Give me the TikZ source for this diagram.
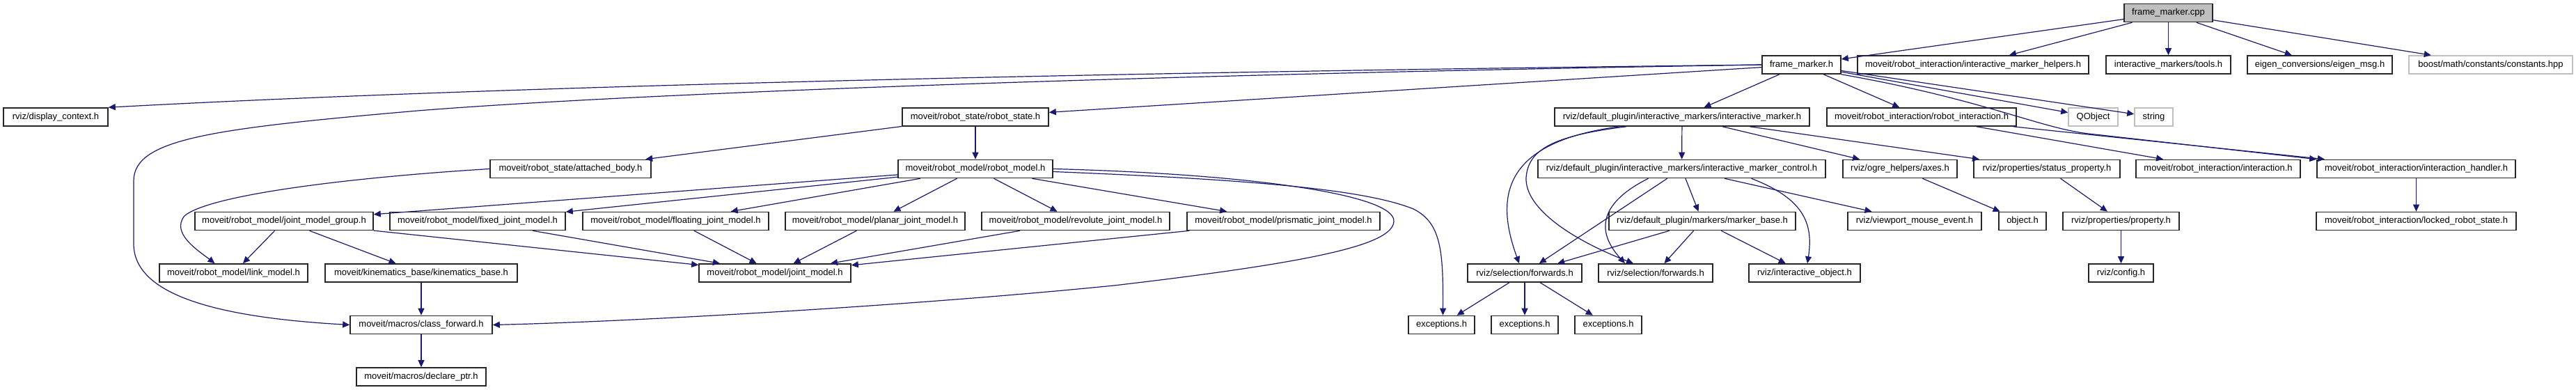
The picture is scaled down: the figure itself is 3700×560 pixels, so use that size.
\documentclass[tikz,border=0pt]{standalone}
\usepackage{fontspec}
\setmainfont{Liberation Sans}
\usetikzlibrary{arrows.meta,calc}
\definecolor{edgec}{HTML}{191970}
\definecolor{graybd}{HTML}{BFBFBF}
\begin{document}
\begin{tikzpicture}[x=0.5pt,y=-0.5pt,
  box/.style={draw=black!85, line width=0.8pt, fill=white, minimum height=13pt, inner sep=0pt, font=\fontsize{6.5}{7.8}\selectfont, anchor=center},
  gbox/.style={box, draw=graybd},
  bw/.style={minimum width={#1*0.5pt}},
  dep/.style={draw=edgec, line width=0.6pt, -{Triangle[length=5pt,width=4.5pt]}}]
\useasboundingbox[fill=white] (0,0) rectangle (3700,560);
% row 0
\node[box,bw=127,fill=graybd] (cpp) at (3114.5,18.5) {frame\_marker.cpp};
% row 1
\node[box,bw=113] (fmh) at (2587.5,93) {frame\_marker.h};
\node[box,bw=332] (helpers) at (2834,93) {moveit/robot\_interaction/interactive\_marker\_helpers.h};
\node[box,bw=179] (tools) at (3114.5,93) {interactive\_markers/tools.h};
\node[box,bw=208] (eigen) at (3332,93) {eigen\_conversions/eigen\_msg.h};
\node[gbox,bw=235] (boost) at (3577.5,93) {boost/math/constants/constants.hpp};
% row 2
\node[box,bw=150] (dc) at (80,168) {rviz/display\_context.h};
\node[box,bw=210] (rs) at (1401,168) {moveit/robot\_state/robot\_state.h};
\node[box,bw=366] (im) at (2416,168) {rviz/default\_plugin/interactive\_markers/interactive\_marker.h};
\node[box,bw=272] (ri) at (2760,168) {moveit/robot\_interaction/robot\_interaction.h};
\node[gbox,bw=71] (qobj) at (3006.5,168) {QObject};
\node[gbox,bw=55] (str) at (3093.5,168) {string};
% row 3
\node[box,bw=231] (ab) at (819.5,242.5) {moveit/robot\_state/attached\_body.h};
\node[box,bw=222] (rm) at (1401,242.5) {moveit/robot\_model/robot\_model.h};
\node[box,bw=413] (imc) at (2415.5,242.5) {rviz/default\_plugin/interactive\_markers/interactive\_marker\_control.h};
\node[box,bw=164] (axes) at (2729,242.5) {rviz/ogre\_helpers/axes.h};
\node[box,bw=210] (sp) at (2940,242.5) {rviz/properties/status\_property.h};
\node[box,bw=236] (inter) at (3186,242.5) {moveit/robot\_interaction/interaction.h};
\node[box,bw=285] (ih) at (3470.5,242.5) {moveit/robot\_interaction/interaction\_handler.h};
% row 4
\node[box,bw=256] (jmg) at (408,317.5) {moveit/robot\_model/joint\_model\_group.h};
\node[box,bw=252] (fixed) at (686,317.5) {moveit/robot\_model/fixed\_joint\_model.h};
\node[box,bw=267] (floating) at (970.5,317.5) {moveit/robot\_model/floating\_joint\_model.h};
\node[box,bw=258] (planar) at (1257,317.5) {moveit/robot\_model/planar\_joint\_model.h};
\node[box,bw=270] (revolute) at (1545,317.5) {moveit/robot\_model/revolute\_joint\_model.h};
\node[box,bw=277] (prismatic) at (1843.5,317.5) {moveit/robot\_model/prismatic\_joint\_model.h};
\node[box,bw=268] (mb) at (2445,317.5) {rviz/default\_plugin/markers/marker\_base.h};
\node[box,bw=192] (vme) at (2750,317.5) {rviz/viewport\_mouse\_event.h};
\node[box,bw=68] (obj) at (2905,317.5) {object.h};
\node[box,bw=167] (prop) at (3046.5,317.5) {rviz/properties/property.h};
\node[box,bw=287] (lrs) at (3470.5,317.5) {moveit/robot\_interaction/locked\_robot\_state.h};
% row 5
\node[box,bw=213] (lm) at (335.5,392) {moveit/robot\_model/link\_model.h};
\node[box,bw=276] (kb) at (605,392) {moveit/kinematics\_base/kinematics\_base.h};
\node[box,bw=218] (jm) at (1113,392) {moveit/robot\_model/joint\_model.h};
\node[box,bw=164] (fw1) at (2190,392) {rviz/selection/forwards.h};
\node[box,bw=164] (fw2) at (2378,392) {rviz/selection/forwards.h};
\node[box,bw=160] (io) at (2592,392) {rviz/interactive\_object.h};
\node[box,bw=93] (cfg) at (3046.5,392) {rviz/config.h};
% row 6
\node[box,bw=204] (cf) at (605,466.5) {moveit/macros/class\_forward.h};
\node[box,bw=95] (e1) at (2070.5,466.5) {exceptions.h};
\node[box,bw=96] (e2) at (2190,466.5) {exceptions.h};
\node[box,bw=96] (e3) at (2310,466.5) {exceptions.h};
% row 7
\node[box,bw=186] (dp) at (605,541) {moveit/macros/declare\_ptr.h};

% edges from frame_marker.cpp
\draw[dep] (cpp) -- (fmh);
\draw[dep] (cpp) -- (helpers);
\draw[dep] (cpp) -- (tools);
\draw[dep] (cpp) -- (eigen);
\draw[dep] (cpp) -- (boost);
% edges from frame_marker.h
\draw[dep] (fmh.west) .. controls (1500,105) and (700,125) .. (dc.north east);
\draw[dep] (fmh.west) .. controls (1600,108) and (900,135) .. (600,159) .. controls (300,185) and (192,200) .. (192,260) -- (192,350) .. controls (192,420) and (300,455) .. (cf.west);
\draw[dep] (fmh) -- (rs);
\draw[dep] (fmh) -- (im);
\draw[dep] (fmh) -- (ri);
\draw[dep] (fmh) -- (qobj);
\draw[dep] (fmh) -- (str);
\draw[dep] (fmh.south east) .. controls (2850,143) and (2930,184) .. (3000,192) -- (ih.north west);
% robot_state
\draw[dep] (rs) -- (rm);
\draw[dep] (rs) -- (ab);
\draw[dep] (ab.west) .. controls (500,255) and (300,280) .. (265,310) .. controls (245,335) and (285,360) .. ($(lm.north)+(-27,0)$);
% robot_model
\draw[dep] (rm) -- (jmg);
\draw[dep] (rm) -- (fixed);
\draw[dep] (rm) -- (floating);
\draw[dep] (rm) -- (planar);
\draw[dep] (rm) -- (revolute);
\draw[dep] (rm) -- (prismatic);
\draw[dep] (rm.east) .. controls (1800,250) and (2005,280) .. (2002,318) .. controls (2000,350) and (1900,375) .. (1600,410) .. controls (1300,440) and (900,462) .. (cf.east);
\draw[dep] ($(rm.east)+(0,4)$) .. controls (1800,258) and (1960,272) .. (2030,300) .. controls (2070,320) and (2073,360) .. ($(e1.north)+(2,0)$);
% joint models
\draw[dep] (jmg) -- (lm);
\draw[dep] (jmg) -- (kb);
\draw[dep] (jmg) -- (jm);
\draw[dep] (fixed) -- (jm);
\draw[dep] (floating) -- (jm);
\draw[dep] (planar) -- (jm);
\draw[dep] (revolute) -- (jm);
\draw[dep] (prismatic) -- (jm);
\draw[dep] (kb) -- (cf);
\draw[dep] (cf) -- (dp);
% interactive marker
\draw[dep] (im) -- (imc);
\draw[dep] (im) -- (axes);
\draw[dep] (im) -- (sp);
\draw[dep] ($(im.south)+(-90,0)$) .. controls (2150,205) and (2150,290) .. ($(fw1.north)+(-8,0)$);
\draw[dep] ($(im.south)+(-80,0)$) .. controls (2230,195) and (2195,215) .. (2192,255) .. controls (2190,300) and (2260,345) .. ($(fw2.north)+(-32,0)$);
% interactive marker control
\draw[dep] (imc) -- (fw1);
\draw[dep] ($(imc.south)+(-48,0)$) .. controls (2300,290) and (2290,330) .. ($(fw2.north)+(-44,0)$);
\draw[dep] (imc) -- (mb);
\draw[dep] (imc) -- (vme);
\draw[dep] ($(imc.south)+(100,0)$) .. controls (2590,285) and (2605,320) .. ($(io.north)+(4,0)$);
% marker base
\draw[dep] (mb) -- (fw1);
\draw[dep] (mb) -- (fw2);
\draw[dep] (mb) -- (io);
% others
\draw[dep] (axes) -- (obj);
\draw[dep] (sp) -- (prop);
\draw[dep] (prop) -- (cfg);
\draw[dep] (ri) -- (inter);
\draw[dep] (ri) -- (ih);
\draw[dep] (ih) -- (lrs);
\draw[dep] (fw1) -- (e1);
\draw[dep] (fw1) -- (e2);
\draw[dep] (fw1) -- (e3);
\end{tikzpicture}
\end{document}
